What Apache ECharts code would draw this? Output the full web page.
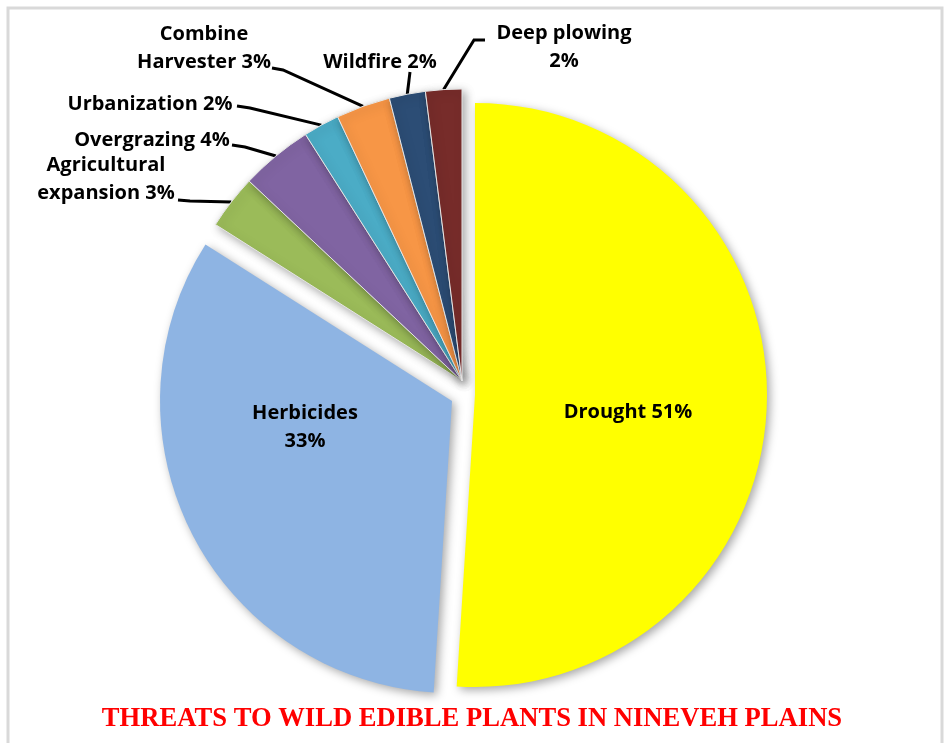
<!DOCTYPE html>
<html><head><meta charset="utf-8">
<script src="https://cdn.jsdelivr.net/npm/echarts@6/dist/echarts.min.js"></script>
<style>html,body{margin:0;padding:0;background:#fff}#c{width:947px;height:743px}</style>
</head><body><div id="c"></div>
<script>
// ---- data ----
const categories = ['Drought','Herbicides','Agricultural expansion','Overgrazing','Urbanization','Combine Harvester','Wildfire','Deep plowing'];
const values = [51, 33, 3, 4, 2, 3, 2, 2];
const labelTexts = ['Drought 51%','Herbicides\n33%','Agricultural\nexpansion 3%','Overgrazing 4%','Urbanization 2%','Combine\nHarvester 3%','Wildfire 2%','Deep plowing\n2%'];
const titleText = 'THREATS TO WILD EDIBLE PLANTS IN NINEVEH PLAINS';

// ---- styling / layout ----
const colors = ['#FFFF00','#8EB4E3','#9BBB59','#8064A2','#4BACC6','#F79646','#2C4D75','#772C2A'];
const groups = [[0],[1],[2,3,4,5,6,7]];
const centers = [[475,395],[452,401],[462,381]];
const radius = 292;
// label centres
const labelPos = [[628,412],[305,427],[106,179],[152,140],[150,104],[204,48],[380,62],[564,47]];
// leader line elbow and end
const lineElbow = {2:[190,201],3:[245,147],4:[250,108],5:[283,70],6:[410,72],7:[474,40]};
const lineEnd   = {2:[178,200],3:[232,145],4:[237,106],5:[272,68],6:[410,72],7:[485,40]};

function makeSeries(g, k) {
  return {
    type: 'pie', center: centers[k], radius: radius, startAngle: 90, clockwise: true,
    silent: true, animation: false, avoidLabelOverlap: false,
    emphasis: {disabled: true},
    label: {
      formatter: p => labelTexts[p.dataIndex],
      color: '#000', fontWeight: 'bold', fontFamily: 'Open Sans', fontSize: 20, lineHeight: 28, align: 'center'
    },
    labelLine: {lineStyle: {color: '#000', width: 3}, length: 20, length2: 10, smooth: false},
    labelLayout: function (params) {
      const i = params.dataIndex;
      const out = {x: labelPos[i][0], y: labelPos[i][1], align: 'center', verticalAlign: 'middle'};
      if (lineEnd[i] && params.labelLinePoints) {
        out.labelLinePoints = [params.labelLinePoints[0], lineElbow[i], lineEnd[i]];
      }
      return out;
    },
    data: categories.map((name, i) => {
      const on = g.includes(i);
      return {
        name: name, value: values[i],
        itemStyle: on ? {
          color: colors[i], shadowBlur: 10, shadowColor: 'rgba(0,0,0,0.35)',
          shadowOffsetX: 3, shadowOffsetY: 3, borderColor: '#e6e6e6', borderWidth: (i >= 2 ? 1 : 0)
        } : {color: 'rgba(0,0,0,0)', borderWidth: 0},
        label: {show: on, position: i < 2 ? 'inside' : 'outside'},
        labelLine: {show: on && i >= 2}
      };
    })
  };
}

const chart = echarts.init(document.getElementById('c'));
chart.setOption({
  animation: false,
  backgroundColor: '#fff',
  series: groups.map(makeSeries),
  graphic: [
    {type: 'rect', z: -1, shape: {x: 8, y: 8, width: 934, height: 760},
     style: {fill: 'none', stroke: '#d9d9d9', lineWidth: 3}},
    {type: 'text', x: 472, y: 719, scaleX: 0.95,
     style: {text: titleText, fill: '#FF0000', font: 'bold 28px "Liberation Serif"', textAlign: 'center', textVerticalAlign: 'middle'}}
  ]
});
</script>
</body></html>
